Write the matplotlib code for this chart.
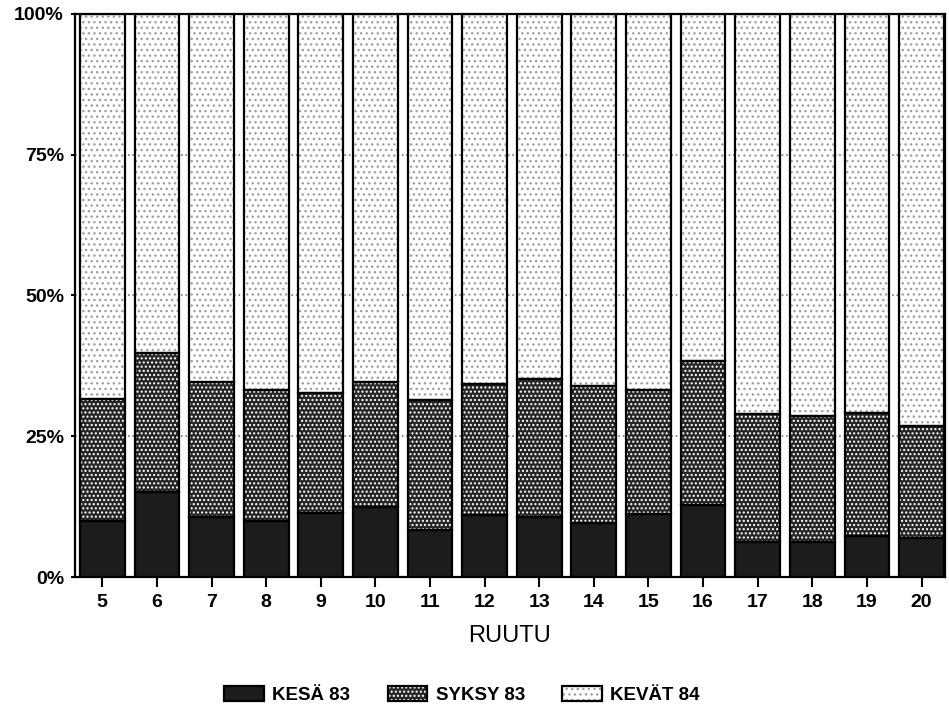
import matplotlib.pyplot as plt
from matplotlib.legend_handler import HandlerTuple

# data (percent of yearly total per plot)
ruutu = [5, 6, 7, 8, 9, 10, 11, 12, 13, 14, 15, 16, 17, 18, 19, 20]
kesa83 = [10.0, 15.1, 10.6, 10.0, 11.3, 12.5, 8.4, 11.0, 10.7, 9.6, 11.2, 12.7, 6.3, 6.2, 7.3, 6.9]
syksy83 = [21.6, 24.6, 24.0, 23.3, 21.4, 22.1, 23.0, 23.2, 24.5, 24.4, 22.1, 25.7, 22.6, 22.4, 21.9, 20.0]
kevat84 = [100 - a - b for a, b in zip(kesa83, syksy83)]
series_names = ['KESÄ 83', 'SYKSY 83', 'KEVÄT 84']
yticks = [0, 25, 50, 75, 100]
ylabels = ['0%', '25%', '50%', '75%', '100%']

plt.rcParams['font.family'] = ['Liberation Sans', 'DejaVu Sans']
plt.rcParams['font.weight'] = 'bold'
plt.rcParams['hatch.linewidth'] = 1.0

fig = plt.figure(figsize=(9.49, 7.05), dpi=100)
ax = fig.add_axes([75/949, 1-577/705, 870/949, 563/705])

w = 0.82
bottoms2 = kesa83
bottoms3 = [a + b for a, b in zip(kesa83, syksy83)]

# fills (hatch colour comes from edgecolor, so outlines are drawn separately)
f1 = ax.bar(ruutu, kesa83, w, color='#1c1c1c', edgecolor='#1c1c1c', linewidth=0, zorder=2)
f2 = ax.bar(ruutu, syksy83, w, bottom=bottoms2, color='#262626', edgecolor='white',
            hatch='....', linewidth=0, zorder=2)
f3 = ax.bar(ruutu, kevat84, w, bottom=bottoms3, color='white', edgecolor='#a0a0a0',
            hatch='...', linewidth=0, zorder=2)
o1 = ax.bar(ruutu, kesa83, w, fill=False, edgecolor='black', linewidth=1.6, zorder=3)
o2 = ax.bar(ruutu, syksy83, w, bottom=bottoms2, fill=False, edgecolor='black', linewidth=1.6, zorder=3)
o3 = ax.bar(ruutu, kevat84, w, bottom=bottoms3, fill=False, edgecolor='black', linewidth=1.6, zorder=3)

ax.set_xlim(4.5, 20.43)
ax.set_ylim(0, 100)
ax.set_xticks(ruutu)
ax.set_xticklabels([str(r) for r in ruutu], fontsize=14)
ax.set_yticks(yticks)
ax.set_yticklabels(ylabels, fontsize=14)
ax.tick_params(axis='x', length=7, width=1.5, pad=5)
ax.tick_params(axis='y', length=3, width=1.5, pad=5)
ax.set_axisbelow(True)
ax.yaxis.grid(True, linestyle=':', color='#777777', linewidth=1.2)
for s in ax.spines.values():
    s.set_linewidth(1.6)

ax.set_xlabel('RUUTU', fontsize=17, fontweight='normal', labelpad=10)

handles = [(f1[0], o1[0]), (f2[0], o2[0]), (f3[0], o3[0])]
fig.legend(handles, series_names, loc='center', bbox_to_anchor=(462/949, 1-695/705),
           ncol=3, frameon=False, fontsize=13.5, handlelength=2.1, handleheight=0.9,
           handletextpad=0.45, columnspacing=2.0,
           handler_map={tuple: HandlerTuple(ndivide=1)})

fig.savefig('out.png', dpi=100)
